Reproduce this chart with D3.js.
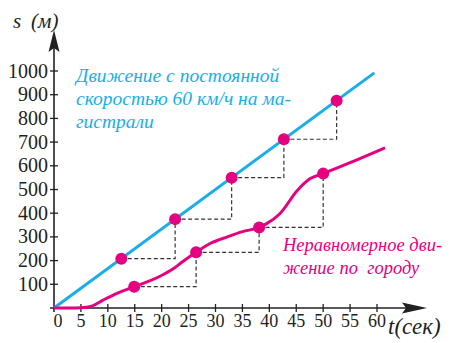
<!DOCTYPE html>
<html><head><meta charset="utf-8">
<script src="https://cdn.jsdelivr.net/npm/d3@7"></script>
<style>
html,body{margin:0;padding:0;background:#fff;}
svg{display:block;}
</style></head>
<body>
<script>
// ---- data ----
const xTicks = [0,5,10,15,20,25,30,35,40,45,50,55,60];
const yTicks = [100,200,300,400,500,600,700,800,900,1000];
// constant speed 60 km/h on highway (t in s, s in m)
const highwayLineT = [0, 59.5];
const highwayLineS = [0, 992];
const highwayPointT = [12.5, 22.5, 33, 42.7, 52.5];
const highwayPointS = [208, 375, 550, 712, 875];
// uneven motion in city
const cityCurveT = [0, 3, 5, 7, 9.1, 11.7, 14.9, 17.3, 19.7, 22, 24, 26.4, 29, 32.2, 35, 38.1, 39.5, 42, 45.2, 47.6, 50, 55, 61.5];
const cityCurveS = [0, 0, 1, 8, 33, 62, 90, 110, 134, 163, 197, 235, 272, 300, 322, 340, 356, 399, 496, 546, 567, 613, 676];
const cityPointT = [14.9, 26.4, 38.1, 50];
const cityPointS = [90, 235, 340, 567];
const blueText = ["Движение с постоянной", "скоростью 60 км/ч на ма-", "гистрали"];
const pinkText = ["Неравномерное дви-", "жение по  городу"];

const FONT = "'Liberation Serif', 'Times New Roman', Tinos, 'DejaVu Serif', 'Noto Serif', serif";
const BLUE = "#19aee8", PINK = "#e4007f";
const W = 458, H = 343;
const svg = d3.select("body").append("svg").attr("width", W).attr("height", H)
  .attr("font-family", FONT).style("font-family", FONT);

const x = d3.scaleLinear().domain([0, 60]).range([54, 377]);
const y = d3.scaleLinear().domain([0, 1000]).range([308, 71]);

// axes lines
svg.append("line").attr("x1", 50).attr("x2", 420).attr("y1", y(0)).attr("y2", y(0))
  .attr("stroke", "#222").attr("stroke-width", 1.6);
svg.append("line").attr("x1", x(0)).attr("x2", x(0)).attr("y1", 312).attr("y2", 42)
  .attr("stroke", "#222").attr("stroke-width", 1.6);
// arrows
svg.append("path").attr("d", `M${x(0)},30 L${x(0)+5.5},52 L${x(0)},48 L${x(0)-5.5},52 Z`).attr("fill", "#222");
svg.append("path").attr("d", `M427,${y(0)} L402,${y(0)-5.5} L406,${y(0)} L402,${y(0)+5.5} Z`).attr("fill", "#222");

// ticks
svg.append("g").selectAll("line").data(xTicks.filter(d => d > 0)).join("line")
  .attr("x1", d => x(d)).attr("x2", d => x(d)).attr("y1", y(0) - 4).attr("y2", y(0) + 4)
  .attr("stroke", "#222").attr("stroke-width", 1.3);
svg.append("g").selectAll("line").data(yTicks).join("line")
  .attr("x1", x(0) - 4).attr("x2", x(0) + 4).attr("y1", d => y(d)).attr("y2", d => y(d))
  .attr("stroke", "#222").attr("stroke-width", 1.3);

svg.append("g").selectAll("text").data(xTicks).join("text")
  .attr("x", d => x(d) + (d === 0 ? 4 : 0)).attr("y", 327)
  .attr("text-anchor", "middle").attr("font-size", 18).attr("fill", "#231f20")
  .text(d => d);
svg.append("g").selectAll("text").data(yTicks).join("text")
  .attr("x", 48).attr("y", d => y(d) + 6.5)
  .attr("text-anchor", "end").attr("font-size", 20).attr("fill", "#231f20")
  .text(d => d);

// axis titles
svg.append("text").attr("x", 13).attr("y", 28).attr("font-size", 21).attr("font-style", "italic").attr("fill", "#231f20").text("s");
svg.append("text").attr("x", 31).attr("y", 28).attr("font-size", 21).attr("font-style", "italic").attr("fill", "#231f20").text("(м)");
svg.append("text").attr("x", 388).attr("y", 334).attr("font-size", 23).attr("font-style", "italic").attr("fill", "#231f20").text("t(сек)");

// dashed steps
function steps(T, S) {
  let d = "";
  for (let i = 0; i < T.length - 1; i++) {
    d += `M${x(T[i])},${y(S[i])} H${x(T[i+1])} V${y(S[i+1])} `;
  }
  return d;
}
svg.append("path").attr("d", steps(highwayPointT, highwayPointS))
  .attr("fill", "none").attr("stroke", "#333").attr("stroke-width", 1.2).attr("stroke-dasharray", "4,2.5");
svg.append("path").attr("d", steps(cityPointT, cityPointS))
  .attr("fill", "none").attr("stroke", "#333").attr("stroke-width", 1.2).attr("stroke-dasharray", "4,2.5");

// lines
const line = d3.line().x(d => x(d[0])).y(d => y(d[1]));
svg.append("path").attr("d", line(highwayLineT.map((t, i) => [t, highwayLineS[i]])))
  .attr("fill", "none").attr("stroke", BLUE).attr("stroke-width", 3);
svg.append("path").attr("d", line.curve(d3.curveMonotoneX)(cityCurveT.map((t, i) => [t, cityCurveS[i]])))
  .attr("fill", "none").attr("stroke", PINK).attr("stroke-width", 3);

// points
svg.append("g").selectAll("circle").data(highwayPointT.map((t, i) => [t, highwayPointS[i]])).join("circle")
  .attr("cx", d => x(d[0])).attr("cy", d => y(d[1])).attr("r", 6).attr("fill", PINK);
svg.append("g").selectAll("circle").data(cityPointT.map((t, i) => [t, cityPointS[i]])).join("circle")
  .attr("cx", d => x(d[0])).attr("cy", d => y(d[1])).attr("r", 6).attr("fill", PINK);

// annotations
svg.append("g").selectAll("text").data(blueText).join("text")
  .attr("x", 76).attr("y", (d, i) => 82 + i * 23)
  .attr("font-size", 19.5).attr("font-style", "italic").attr("fill", BLUE).text(d => d);
svg.append("g").selectAll("text").data(pinkText).join("text")
  .attr("x", 283).attr("y", (d, i) => 251 + i * 22.5)
  .attr("font-size", 18.5).attr("font-style", "italic").attr("fill", PINK)
  .attr("xml:space", "preserve").style("white-space", "pre").text(d => d);
</script>
</body></html>
